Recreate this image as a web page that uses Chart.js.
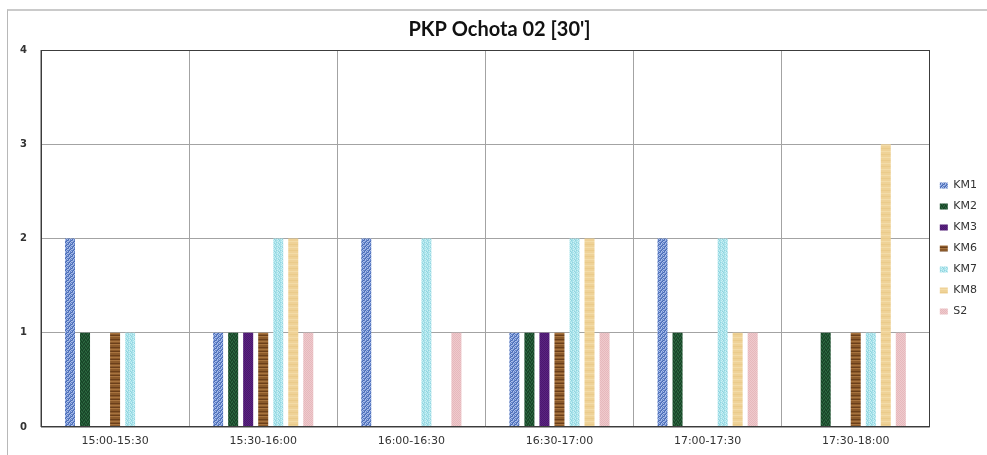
<!DOCTYPE html>
<html>
<head>
<meta charset="utf-8">
<script src="https://cdn.jsdelivr.net/npm/chart.js@4.4.1/dist/chart.umd.min.js"></script>
<style>
    html, body { margin: 0; padding: 0; background: #fff; }
    #wrap { position: relative; width: 987px; height: 455px; }
    #frame {
        position: absolute; left: 7px; top: 9px; right: 0; bottom: 0;
        border-left: 1px solid #b8b8b8; border-top: 2px solid #cacaca;
    }
    #chart { position: absolute; left: 0; top: 0; }
</style>
</head>
<body>
<div id="wrap">
    <div id="frame"></div>
    <canvas id="chart" width="987" height="455"></canvas>
</div>
<script>
// --- Data ----------------------------------------------------------------

const categories = ['15:00-15:30', '15:30-16:00', '16:00-16:30', '16:30-17:00', '17:00-17:30', '17:30-18:00'];
const seriesNames = ['KM1', 'KM2', 'KM3', 'KM6', 'KM7', 'KM8', 'S2'];

const km1 = [2, 1, 2, 1, 2, 0];
const km2 = [1, 1, 0, 1, 1, 1];
const km3 = [0, 1, 0, 1, 0, 0];
const km6 = [1, 1, 0, 1, 0, 1];
const km7 = [1, 2, 2, 2, 2, 1];
const km8 = [0, 2, 0, 2, 1, 3];
const s2 = [0, 1, 1, 1, 1, 1];

const yTicks = [0, 1, 2, 3, 4];

// --- Textures (Excel-style fills) ----------------------------------------

function tile(palette, rows) {
    const c = document.createElement('canvas');
    c.width = rows[0].length;
    c.height = rows.length;
    const g = c.getContext('2d');
    rows.forEach((row, y) => {
        [...row].forEach((ch, x) => {
            g.fillStyle = palette[+ch];
            g.fillRect(x, y, 1, 1);
        });
    });
    return g.createPattern(c, 'repeat');
}

const fills = [
    tile(['#6384cc', '#a9bde8', '#4a6bb3'], ['0102', '1021', '0210', '2101']),
    tile(['#1f5331', '#2f6b43', '#173f25'], ['0012', '1200', '0021', '2100']),
    tile(['#4b176f', '#5a2480'], ['01', '10']),
    tile(['#8b5a2b', '#6b3f1a', '#a8743f'], ['2', '0', '0', '1', '0', '2', '0', '1']),
    tile(['#a8e2ea', '#cbf1f5', '#8fd3df'], ['0012', '0100', '2001', '0120']),
    tile(['#efd297', '#f3dca8', '#eacb8a'], ['0', '1', '0', '0', '2', '0']),
    tile(['#e6b8bc', '#efcacd'], ['01', '10']),
];

const seriesData = [km1, km2, km3, km6, km7, km8, s2];

// --- Chart ---------------------------------------------------------------

// dark frame round the plot area
const plotFrame = {
    id: 'plotFrame',
    afterDraw(chart) {
        const { ctx, chartArea: a } = chart;
        ctx.save();
        ctx.strokeStyle = '#3c3c3c';
        ctx.lineWidth = 1;
        const l = Math.round(a.left) + 0.5;
        const t = Math.round(a.top) + 0.5;
        const r = Math.round(a.right) - 0.5;
        const b = Math.round(a.bottom) - 0.5;
        ctx.strokeRect(l, t, r - l, b - t);
        ctx.restore();
    },
};

new Chart(document.getElementById('chart'), {
    type: 'bar',
    data: {
        labels: categories,
        datasets: seriesNames.map((name, i) => ({
            label: name,
            data: seriesData[i],
            backgroundColor: fills[i],
            borderWidth: 0,
            categoryPercentage: 0.71,
            barPercentage: 0.667,
        })),
    },
    options: {
        responsive: false,
        animation: false,
        layout: { padding: { left: 12, top: 9, right: 0, bottom: 8 } },
        plugins: {
            title: {
                display: true,
                text: "PKP Ochota 02 [30']",
                color: '#111',
                font: { family: 'Lato', size: 20, weight: 'bold' },
                padding: { top: 9, bottom: 8 },
            },
            legend: {
                position: 'right',
                fullSize: false,
                title: { display: true, text: ' ', font: { size: 10 }, padding: 4 },
                labels: {
                    boxWidth: 8,
                    boxHeight: 6,
                    padding: 10,
                    color: '#333',
                    font: { family: 'DejaVu Sans', size: 11 },
                },
            },
            tooltip: { enabled: false },
        },
        scales: {
            x: {
                grid: { color: '#a3a3a3', drawTicks: false },
                border: { display: false },
                afterFit: (scale) => { scale.height = 20; },
                ticks: {
                    color: '#333',
                    padding: 8,
                    font: { family: 'DejaVu Sans', size: 11 },
                },
            },
            y: {
                min: yTicks[0],
                max: yTicks[yTicks.length - 1],
                grid: { color: '#a3a3a3', drawTicks: false },
                border: { display: false },
                afterFit: (scale) => { scale.width = 29; },
                afterBuildTicks: (scale) => {
                    scale.ticks = yTicks.map((v) => ({ value: v }));
                },
                ticks: {
                    color: '#333',
                    padding: 14,
                    font: { family: 'DejaVu Sans', size: 10, weight: 'bold' },
                },
            },
        },
    },
    plugins: [plotFrame],
});
</script>
</body>
</html>
